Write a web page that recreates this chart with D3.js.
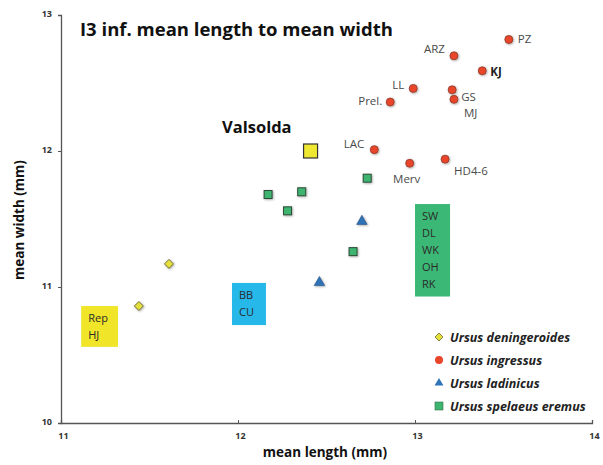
<!DOCTYPE html>
<meta charset="utf-8">
<style>
  body { margin: 0; background: #fff; }
  text { font-family: "Open Sans", "DejaVu Sans", sans-serif; }
</style>
<script src="https://d3js.org/d3.v7.min.js"></script>
<body>
<script>

var width = 603,
    height = 465;

// U. ingressus sites
var ingNames = ["PZ", "ARZ", "KJ", "LL", "GS", "MJ", "Prel.", "LAC", "Merv", "HD4-6"];
var ingLength = [13.53, 13.22, 13.38, 12.99, 13.21, 13.22, 12.86, 12.77, 12.97, 13.17];
var ingWidth = [12.82, 12.70, 12.59, 12.46, 12.45, 12.38, 12.36, 12.01, 11.91, 11.94];

// U. spelaeus eremus
var ereLength = [12.17, 12.36, 12.28, 12.73, 12.65];
var ereWidth = [11.68, 11.70, 11.56, 11.80, 11.26];

// U. ladinicus
var ladLength = [12.70, 12.46];
var ladWidth = [11.49, 11.04];

// U. deningeroides
var denLength = [11.61, 11.44];
var denWidth = [11.17, 10.86];

// Valsolda
var valLength = 12.41, valWidth = 12.00;

var xTicks = [11, 12, 13, 14];
var yTicks = [10, 11, 12, 13];

var legendLabels = ["Ursus deningeroides", "Ursus ingressus", "Ursus ladinicus", "Ursus spelaeus eremus"];

var x = d3.scaleLinear().domain([11, 14]).range([61, 592]);
var y = d3.scaleLinear().domain([10, 13]).range([423, 15]);

var svg = d3.select("body").append("svg")
    .attr("width", width)
    .attr("height", height);

// axes
var xAxis = svg.append("g")
    .attr("transform", "translate(0," + y(10) + ")")
    .call(d3.axisBottom(x).tickValues(xTicks).tickSize(-3).tickPadding(10).tickFormat(d3.format("d")));
var yAxis = svg.append("g")
    .attr("transform", "translate(" + x(11) + ",0)")
    .call(d3.axisLeft(y).tickValues(yTicks).tickSize(3).tickPadding(6).tickFormat(d3.format("d")));
[xAxis, yAxis].forEach(function(a){
  a.select(".domain").attr("stroke", "#555").attr("stroke-width", 1.3);
  a.selectAll(".tick line").attr("stroke", "#555");
  a.selectAll(".tick text").attr("fill", "#333").attr("font-size", 9).attr("font-weight", "bold")
    .style("font-family", "Open Sans, sans-serif");
});
xAxis.selectAll(".tick line").attr("y1", 0).attr("y2", -3);
yAxis.selectAll(".tick text").attr("dy", "0.2em");
// x-tick labels sit slightly right of the tick
xAxis.selectAll(".tick text").attr("dx", 2);

svg.append("text")
    .attr("x", 325).attr("y", 457)
    .attr("text-anchor", "middle")
    .attr("font-size", 13.5).attr("font-weight", "bold").attr("fill", "#111")
    .text("mean length (mm)");
svg.append("text")
    .attr("transform", "translate(24,220) rotate(-90)")
    .attr("text-anchor", "middle")
    .attr("font-size", 13.5).attr("font-weight", "bold").attr("fill", "#111")
    .text("mean width (mm)");

// title
svg.append("text")
    .attr("x", 80).attr("y", 36)
    .attr("font-size", 18.5).attr("font-weight", "bold").attr("fill", "#111")
    .text("I3 inf. mean length to mean width");

// site boxes
var boxes = [
  {x0: 11.114, x1: 11.322, y0: 10.86, y1: 10.56, fill: "#f0e528", lines: ["Rep", "HJ"]},
  {x0: 11.966, x1: 12.158, y0: 11.03, y1: 10.72, fill: "#27b8ea", lines: ["BB", "CU"]},
  {x0: 13.0, x1: 13.198, y0: 11.61, y1: 10.93, fill: "#3cb876", lines: ["SW", "DL", "WK", "OH", "RK"]}
];
boxes.forEach(function(b){
  svg.append("rect")
      .attr("x", x(b.x0)).attr("y", y(b.y0))
      .attr("width", x(b.x1) - x(b.x0)).attr("height", y(b.y1) - y(b.y0))
      .attr("fill", b.fill);
  b.lines.forEach(function(t, i){
    svg.append("text")
        .attr("x", x(b.x0) + 7).attr("y", y(b.y0) + 16 + i * 17)
        .attr("font-size", 11).attr("fill", "#2a2a2a")
        .text(t);
  });
});

// Valsolda
svg.append("rect")
    .attr("x", x(valLength) - 7).attr("y", y(valWidth) - 7)
    .attr("width", 14).attr("height", 14)
    .attr("fill", "#eee833").attr("stroke", "#333").attr("stroke-width", 1.2);
svg.append("text")
    .attr("x", 222).attr("y", 133)
    .attr("font-size", 16.5).attr("font-weight", "bold").attr("fill", "#111")
    .text("Valsolda");

var shadow = svg.append("defs").append("filter").attr("id", "sh")
    .attr("x", "-50%").attr("y", "-50%").attr("width", "200%").attr("height", "200%");
shadow.append("feDropShadow").attr("dx", 0.8).attr("dy", 0.8).attr("stdDeviation", 0.8)
    .attr("flood-color", "#000").attr("flood-opacity", 0.35);

function sym(type, size){ return d3.symbol().type(type).size(size)(); }
function diamond(r){ return "M0," + (-r) + "L" + r + ",0L0," + r + "L" + (-r) + ",0Z"; }

// deningeroides
svg.selectAll(".den").data(denLength).enter().append("path")
    .attr("class", "den")
    .attr("transform", function(d, i){ return "translate(" + x(d) + "," + y(denWidth[i]) + ")"; })
    .attr("d", diamond(4.5))
    .attr("fill", "#e5e03a").attr("stroke", "#6d6a3a").attr("stroke-width", 1)
    .attr("filter", "url(#sh)");

// spelaeus eremus
svg.selectAll(".ere").data(ereLength).enter().append("rect")
    .attr("class", "ere")
    .attr("x", function(d){ return x(d) - 4; })
    .attr("y", function(d, i){ return y(ereWidth[i]) - 4; })
    .attr("width", 8).attr("height", 8)
    .attr("fill", "#3cb56f").attr("stroke", "#2d4a36").attr("stroke-width", 1)
    .attr("filter", "url(#sh)");

// ladinicus
svg.selectAll(".lad").data(ladLength).enter().append("path")
    .attr("class", "lad")
    .attr("transform", function(d, i){ return "translate(" + x(d) + "," + (y(ladWidth[i]) + 1) + ")"; })
    .attr("d", sym(d3.symbolTriangle, 48))
    .attr("fill", "#2f73b8").attr("stroke", "#2a4f7a").attr("stroke-width", 0.6)
    .attr("filter", "url(#sh)");

// ingressus
svg.selectAll(".ing").data(ingLength).enter().append("circle")
    .attr("class", "ing")
    .attr("cx", function(d){ return x(d); })
    .attr("cy", function(d, i){ return y(ingWidth[i]); })
    .attr("r", 4)
    .attr("fill", "#e8452a").attr("stroke", "#8a3a2a").attr("stroke-width", 0.8)
    .attr("filter", "url(#sh)");

// label offsets relative to each point (dx, dy, anchor)
var labelPos = {
  "PZ": [9, 4, "start"], "ARZ": [-9, -3, "end"], "KJ": [8, 5, "start"],
  "LL": [-9, 1, "end"], "GS": [9, 11, "start"], "MJ": [10, 18, "start"],
  "Prel.": [-8, 3, "end"], "LAC": [-10, -2, "end"], "Merv": [-3, 20, "middle"],
  "HD4-6": [9, 16, "start"]
};
ingNames.forEach(function(n, i){
  var p = labelPos[n];
  svg.append("text")
      .attr("x", x(ingLength[i]) + p[0]).attr("y", y(ingWidth[i]) + p[1])
      .attr("text-anchor", p[2])
      .attr("font-size", 11.5).attr("fill", n === "KJ" ? "#222" : "#4a4a4a")
      .attr("font-weight", n === "KJ" ? "bold" : "normal")
      .text(n);
});

// legend
var legend = svg.append("g").attr("transform", "translate(439,337)");
legendLabels.forEach(function(t, i){
  var g = legend.append("g").attr("transform", "translate(0," + (i * 23) + ")");
  if (i === 0) g.append("path").attr("d", diamond(4)).attr("fill", "#e5e03a").attr("stroke", "#8a8540");
  if (i === 1) g.append("circle").attr("r", 4).attr("fill", "#e8452a");
  if (i === 2) g.append("path").attr("d", sym(d3.symbolTriangle, 34)).attr("fill", "#2f73b8");
  if (i === 3) g.append("rect").attr("x", -4).attr("y", -4).attr("width", 8).attr("height", 8).attr("fill", "#3cb56f").attr("stroke", "#3a6a4a").attr("stroke-width", 0.6);
  g.append("text").attr("x", 11).attr("y", 4.5)
      .attr("font-size", 12.5).attr("font-weight", "bold").attr("font-style", "italic").attr("fill", "#222")
      .text(t);
});

</script>
</body>
